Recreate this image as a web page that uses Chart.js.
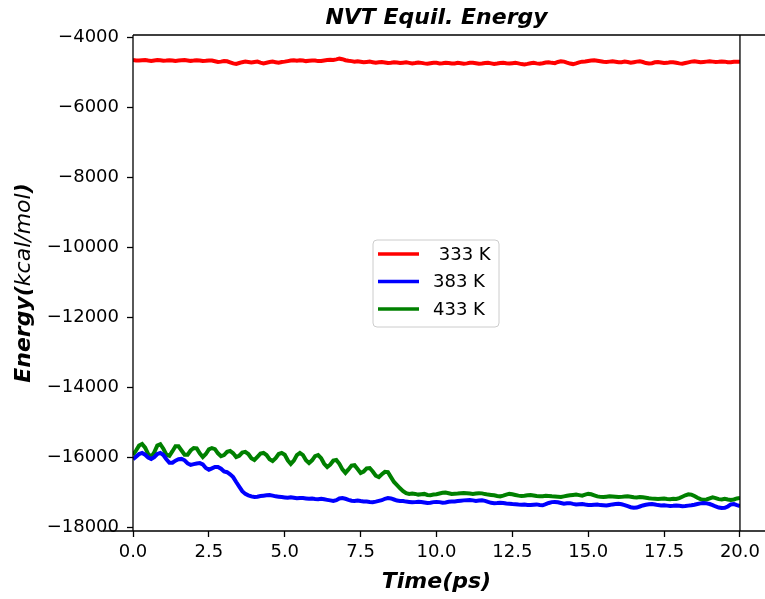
<!DOCTYPE html>
<html>
<head>
<meta charset="utf-8">
<script src="https://cdn.jsdelivr.net/npm/chart.js@4/dist/chart.umd.min.js"></script>
<style>
  body { margin: 0; background: #fff; }
  #chart { display: block; }
</style>
</head>
<body>
<canvas id="chart" width="765" height="599"></canvas>
<script>
// sampling grid: one value every 0.1 ps, 0..20 ps
const TIME_STEP = 0.1;
const times = Array.from({ length: 201 }, (_, i) => +(i * TIME_STEP).toFixed(1));

const seriesLabels = [' 333 K', '383 K', '433 K'];
const seriesColors = ['#ff0000', '#0000ff', '#008000'];

const xTicks = [0, 2.5, 5, 7.5, 10, 12.5, 15, 17.5, 20];
const yTicks = [-18000, -16000, -14000, -12000, -10000, -8000, -6000, -4000];

// energies in kcal/mol
const energy333 = [
  -4640, -4655, -4660, -4650, -4645, -4660, -4670, -4655, -4645, -4650,
  -4665, -4660, -4648, -4655, -4670, -4660, -4650, -4645, -4655, -4668,
  -4660, -4650, -4655, -4670, -4665, -4655, -4660, -4680, -4700, -4690,
  -4670, -4680, -4710, -4740, -4755, -4730, -4705, -4690, -4700, -4715,
  -4700, -4690, -4720, -4740, -4720, -4700, -4690, -4705, -4720, -4700,
  -4690, -4675, -4660, -4650, -4665, -4650, -4660, -4675, -4665, -4655,
  -4660, -4675, -4670, -4655, -4645, -4635, -4640, -4625, -4605, -4620,
  -4650, -4665, -4675, -4690, -4680, -4695, -4710, -4700, -4690, -4705,
  -4720, -4705, -4700, -4715, -4730, -4720, -4705, -4715, -4730, -4720,
  -4710, -4725, -4740, -4730, -4715, -4725, -4740, -4750, -4735, -4720,
  -4725, -4740, -4735, -4720, -4730, -4745, -4740, -4725, -4735, -4750,
  -4740, -4725, -4720, -4735, -4750, -4745, -4730, -4725, -4740, -4755,
  -4745, -4730, -4720, -4735, -4745, -4735, -4725, -4740, -4760, -4770,
  -4755, -4735, -4725, -4740, -4750, -4735, -4715, -4710, -4725, -4735,
  -4700, -4680, -4690, -4720, -4745, -4760, -4740, -4710, -4690, -4685,
  -4670, -4660, -4650, -4665, -4680, -4695, -4700, -4690, -4680, -4695,
  -4710, -4705, -4690, -4700, -4720, -4705, -4690, -4680, -4700, -4730,
  -4745, -4735, -4710, -4700, -4715, -4730, -4725, -4710, -4705, -4720,
  -4740, -4750, -4730, -4710, -4690, -4680, -4695, -4710, -4700, -4690,
  -4680, -4690, -4700, -4695, -4685, -4690, -4705, -4710, -4695, -4690,
  -4695
];

const energy383 = [
  -16050, -15980, -15900, -15870, -15920, -16000, -16040, -15990, -15900, -15870,
  -15930, -16050, -16150, -16150, -16090, -16050, -16040, -16080, -16170, -16210,
  -16190, -16170, -16160, -16200, -16300, -16350, -16310, -16270, -16270, -16320,
  -16400, -16420, -16480, -16560, -16700, -16830, -16960, -17040, -17080, -17110,
  -17130, -17120, -17100, -17090, -17080, -17070, -17090, -17110, -17120, -17130,
  -17140, -17150, -17135, -17150, -17165, -17155, -17160, -17170, -17180, -17175,
  -17185, -17190, -17180, -17195, -17210, -17225, -17240, -17220, -17170, -17160,
  -17180, -17210, -17235, -17240, -17230, -17245, -17255, -17260, -17270, -17275,
  -17260, -17240, -17220, -17180, -17160, -17170, -17200, -17230, -17240, -17245,
  -17260, -17270, -17280, -17275, -17265, -17270, -17285, -17300, -17290, -17275,
  -17270, -17275, -17290, -17285, -17265, -17260, -17255, -17245, -17235, -17225,
  -17220, -17215, -17225, -17240, -17230, -17225, -17240, -17270, -17295, -17305,
  -17300, -17290, -17300, -17315, -17320, -17330, -17335, -17345, -17350, -17345,
  -17355, -17360, -17350, -17340, -17355, -17365, -17335, -17300, -17275, -17270,
  -17280, -17300, -17320, -17310, -17305, -17325, -17340, -17335, -17330, -17345,
  -17355, -17360, -17350, -17345, -17360, -17365, -17370, -17355, -17340, -17330,
  -17320, -17335, -17360, -17390, -17420, -17435, -17430, -17400, -17370, -17350,
  -17335, -17330, -17345, -17360, -17370, -17365, -17375, -17385, -17380, -17370,
  -17380, -17390, -17385, -17375, -17365, -17350, -17330, -17310, -17300, -17310,
  -17330, -17360, -17400, -17430, -17445, -17440, -17400, -17340, -17330, -17360,
  -17385
];

const energy433 = [
  -15930, -15800, -15660, -15615, -15720, -15900, -15985, -15850, -15660, -15620,
  -15750, -15920, -15950, -15820, -15680, -15680, -15800, -15920, -15920, -15800,
  -15730, -15740, -15880, -15985, -15900, -15770, -15730, -15760, -15880, -15960,
  -15930, -15840, -15815, -15880, -15985, -15950, -15860, -15840, -15900, -16020,
  -16070, -15980, -15890, -15870, -15930, -16050, -16100, -16020, -15900, -15870,
  -15920, -16080, -16185, -16090, -15930, -15870, -15930, -16080, -16160, -16080,
  -15960, -15930, -16020, -16180, -16270, -16200, -16090, -16070, -16180, -16340,
  -16440, -16340, -16230, -16220, -16330, -16440, -16400, -16310, -16300, -16400,
  -16520, -16560, -16480, -16410, -16420, -16560, -16700, -16790, -16880, -16960,
  -17020, -17040, -17030, -17040, -17060, -17050, -17040, -17070, -17080, -17060,
  -17050, -17030, -17010, -17000, -17020, -17040, -17035, -17030, -17020, -17015,
  -17020, -17030, -17040, -17030, -17020, -17025, -17045, -17060, -17070, -17080,
  -17100, -17110, -17090, -17060, -17040, -17050, -17070, -17090, -17100, -17095,
  -17080, -17070, -17085, -17100, -17110, -17105, -17095, -17100, -17110, -17115,
  -17120, -17125, -17110, -17095, -17080, -17070, -17060, -17075, -17090, -17060,
  -17040, -17050, -17080, -17110, -17125, -17130, -17120, -17110, -17115, -17120,
  -17130, -17125, -17115, -17110, -17120, -17135, -17140, -17130, -17135, -17150,
  -17165, -17175, -17180, -17185, -17180, -17175, -17185, -17190, -17180, -17185,
  -17160, -17120, -17080, -17050, -17060, -17100, -17150, -17190, -17210, -17200,
  -17170, -17140, -17160, -17190, -17200, -17180, -17200, -17215, -17200, -17170,
  -17160
];

const FONT = "'DejaVu Sans', 'Liberation Sans', sans-serif";

function toPoints(values) {
  return values.map((v, i) => ({ x: times[i], y: v }));
}

function minusLabel(v) {
  const s = Number.isInteger(v) ? String(Math.abs(v)) : Math.abs(v).toFixed(1);
  return v < 0 ? '\u2212' + s : s;
}

// spines, title, axis titles and the legend box (matplotlib style)
const decorations = {
  id: 'decorations',
  afterDraw(chart) {
    const ctx = chart.ctx;
    const a = chart.chartArea;
    ctx.save();

    ctx.strokeStyle = '#000';
    ctx.lineWidth = 1.3;
    ctx.beginPath();
    ctx.moveTo(a.left, a.top); ctx.lineTo(a.left, a.bottom);
    ctx.moveTo(a.left, a.top); ctx.lineTo(765, a.top);
    ctx.moveTo(103, a.bottom); ctx.lineTo(765, a.bottom);
    ctx.moveTo(a.right, a.top); ctx.lineTo(a.right, a.bottom);
    ctx.stroke();

    ctx.fillStyle = '#000';
    ctx.textAlign = 'center';
    ctx.textBaseline = 'alphabetic';
    ctx.font = 'italic bold 22px ' + FONT;
    ctx.fillText('NVT Equil. Energy', (a.left + a.right) / 2, 24);
    ctx.fillText('Time(ps)', (a.left + a.right) / 2, 588);

    // y title: bold "Energy(", italic "kcal/mol", bold ")"
    const parts = [
      ['Energy(', 'italic bold 22px ' + FONT],
      ['kcal/mol', 'italic 22px ' + FONT],
      [')', 'italic bold 22px ' + FONT],
    ];
    let total = 0;
    parts.forEach(([t, f]) => { ctx.font = f; total += ctx.measureText(t).width; });
    ctx.translate(30, (a.top + a.bottom) / 2);
    ctx.rotate(-Math.PI / 2);
    ctx.textAlign = 'left';
    let x = -total / 2;
    parts.forEach(([t, f]) => { ctx.font = f; ctx.fillText(t, x, 0); x += ctx.measureText(t).width; });
    ctx.setTransform(1, 0, 0, 1, 0, 0);

    // legend
    const lx = 373, ly = 240, lw = 126, lh = 87, r = 4;
    ctx.beginPath();
    ctx.moveTo(lx + r, ly);
    ctx.arcTo(lx + lw, ly, lx + lw, ly + lh, r);
    ctx.arcTo(lx + lw, ly + lh, lx, ly + lh, r);
    ctx.arcTo(lx, ly + lh, lx, ly, r);
    ctx.arcTo(lx, ly, lx + lw, ly, r);
    ctx.closePath();
    ctx.fillStyle = 'rgba(255,255,255,0.8)';
    ctx.fill();
    ctx.strokeStyle = '#cccccc';
    ctx.lineWidth = 1;
    ctx.stroke();

    ctx.font = '18px ' + FONT;
    ctx.textBaseline = 'middle';
    ctx.textAlign = 'left';
    chart.data.datasets.forEach((ds, i) => {
      const yy = 254 + i * 27.5;
      ctx.strokeStyle = ds.borderColor;
      ctx.lineWidth = 3.5;
      ctx.beginPath();
      ctx.moveTo(378, yy); ctx.lineTo(419, yy);
      ctx.stroke();
      ctx.fillStyle = '#000';
      ctx.fillText(ds.label, 433, yy + 1);
    });

    ctx.restore();
  }
};

new Chart(document.getElementById('chart'), {
  type: 'line',
  data: {
    datasets: [energy333, energy383, energy433].map((vals, i) => ({
      label: seriesLabels[i],
      data: toPoints(vals),
      borderColor: seriesColors[i],
      backgroundColor: seriesColors[i],
      borderWidth: 4,
      pointRadius: 0,
      tension: 0,
      fill: false,
    })),
  },
  options: {
    responsive: false,
    animation: false,
    layout: { padding: { left: 0, right: 25, top: 35, bottom: 0 } },
    plugins: {
      legend: { display: false },
      title: { display: false },
      tooltip: { enabled: false },
    },
    scales: {
      x: {
        type: 'linear',
        min: 0,
        max: 20,
        afterBuildTicks: s => { s.ticks = xTicks.map(v => ({ value: v })); },
        afterFit: s => { s.height = 68; },
        border: { display: false },
        grid: { drawOnChartArea: false, drawTicks: true, tickLength: 6, color: '#000', tickWidth: 1.3 },
        ticks: { color: '#000', font: { family: FONT, size: 18 }, padding: 5, maxRotation: 0,
                 callback: v => minusLabel(v).replace(/^(\d+)$/, '$1.0') },
      },
      y: {
        type: 'linear',
        min: -18100,
        max: -3929,
        afterBuildTicks: s => { s.ticks = yTicks.map(v => ({ value: v })); },
        afterFit: s => { s.width = 133; },
        border: { display: false },
        grid: { drawOnChartArea: false, drawTicks: true, tickLength: 6, color: '#000', tickWidth: 1.3 },
        ticks: { color: '#000', font: { family: FONT, size: 18 }, padding: 8,
                 callback: v => minusLabel(v) },
      },
    },
  },
  plugins: [decorations],
});
</script>
</body>
</html>
